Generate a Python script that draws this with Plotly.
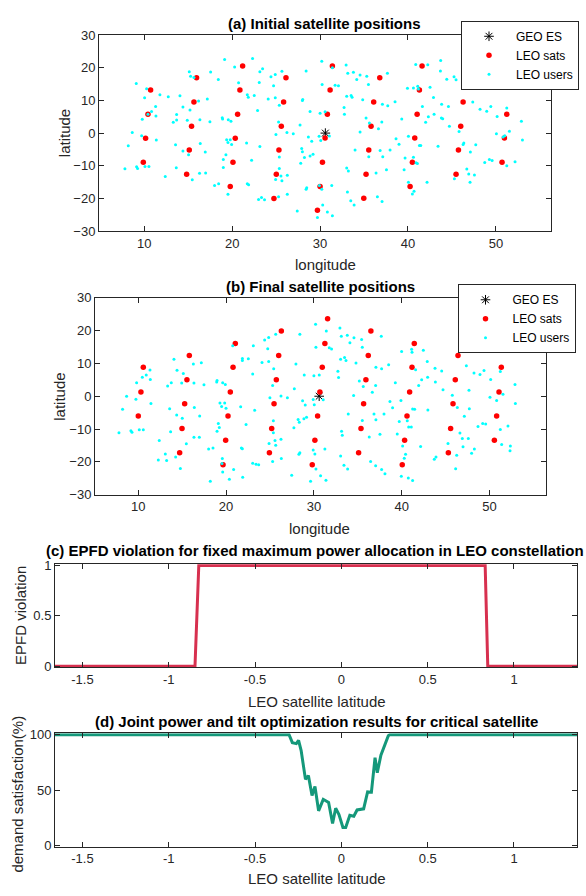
import plotly.graph_objects as go

# ---------------- data ----------------
geo_lon = [30.6]
geo_lat = [0.0]

# (a) initial LEO satellite positions
sats_a_lon = [10.72, 15.95, 21.19, 20.88, 15.65, 10.42, 15.38, 20.62, 10.15, 15.12, 20.35, 9.89,
              14.82, 20.09, 19.78, 26.12, 25.85, 25.59, 25.32, 25.02, 24.75, 31.4, 36.79, 31.14,
              36.1, 30.83, 35.8, 30.57, 35.54, 30.27, 35.23, 30.0, 34.97, 29.7, 41.6, 41.3,
              41.04, 40.77, 40.5, 40.24, 46.57, 46.27, 46.0, 45.74, 45.47, 51.24, 50.97, 50.7]
sats_a_lat = [13.2, 16.9, 20.5, 13.2, 9.5, 5.8, 2.1, 5.8, -1.6, -5.2, -1.6, -8.9,
              -12.6, -8.9, -16.3, 16.9, 9.5, 2.1, -5.2, -12.6, -20.0, 20.5, 16.9, 13.2,
              9.5, 5.8, 2.1, -1.5, -5.2, -8.9, -12.6, -16.3, -19.9, -23.6, 20.5, 13.2,
              5.8, -1.5, -8.9, -16.3, 16.9, 9.5, 2.1, -5.2, -12.6, 5.8, -1.5, -8.9]

users_a_lon = [9.09, 10.27, 10.04, 11.29, 10.83, 10.42, 11.33, 9.77, 8.63, 9.7, 11.37, 8.18, 7.8,
               9.13, 9.24, 10.08, 10.53, 11.78, 12.73, 14.06, 14.4, 15.12, 15.27, 15.65, 17.55,
               16.18, 17.17, 15.2, 13.68, 13.3, 13.68, 14.89, 16.33, 17.47, 18.42, 19.14, 20.28,
               20.73, 18.87, 18.91, 19.56, 19.86, 13.56, 14.4, 15.04, 16.37, 16.94, 13.64, 12.39,
               15.46, 16.29, 16.98, 18.0, 18.46, 18.99, 18.99, 19.29, 19.37, 19.52, 19.78, 19.94,
               19.52, 22.32, 21.72, 21.83, 22.51, 23.08, 23.15, 23.46, 22.89, 21.64, 23.15, 22.21,
               21.72, 21.87, 23.0, 23.34, 23.68, 24.1, 24.41, 24.9, 24.71, 25.66, 24.9, 25.36,
               25.28, 24.98, 26.23, 26.95, 25.36, 25.36, 25.55, 24.94, 25.66, 26.27, 26.27, 25.28,
               27.4,
               30.19, 28.41, 32.96, 31.4, 33.15, 33.79, 34.55, 35.31, 34.17, 35.5, 37.66, 30.23,
               31.71, 32.09, 33.53, 33.03, 33.64, 34.85, 37.09, 37.7, 38.53, 32.73, 32.77, 30.0,
               30.57, 28.86, 27.99, 28.03, 35.23, 35.61, 37.02, 36.64, 39.29, 34.55, 27.72, 28.67,
               29.05, 29.89, 30.08, 31.06, 38.64, 38.98, 37.96, 36.83, 33.98, 37.13, 35.54, 27.91,
               27.99, 28.22, 28.86, 29.2, 27.8, 33.03, 33.22, 36.37, 37.55, 39.56, 29.92, 30.19,
               31.33, 28.48, 28.41, 33.11, 33.49, 33.87, 36.52, 37.05, 30.3, 30.83, 31.4, 29.7,
               40.88, 42.25, 40.62, 41.11, 41.19, 42.51, 39.94, 42.9, 41.64, 42.32, 42.97, 42.01,
               43.83, 44.6, 43.72, 43.69, 44.41, 45.24, 45.47, 43.8, 43.95, 44.71, 45.81, 40.05,
               41.3, 41.45, 43.42, 39.67, 40.62, 40.92, 41.07, 40.05, 40.69, 40.5, 42.17, 46.27,
               46.35, 47.71, 47.1, 46.69, 46.91, 47.56, 47.06, 45.28, 47.37, 48.2, 48.96, 49.42,
               50.14, 51.24, 50.06, 50.82, 51.01, 51.54, 53.02, 52.9, 48.73, 49.26, 49.57, 51.24,
               52.18, 46.76]
users_a_lat = [15.2, 13.6, 10.8, 8.1, 6.6, 5.8, 5.2, 4.2, 0.2, -0.8, -2.1, -3.9, -10.9,
               -10.3, -10.8, -10.2, -10.2, 11.7, 11.1, 11.4, 8.0, 18.8, 17.4, 17.0, 18.7,
               9.8, 10.4, 7.1, 5.7, 3.3, 4.0, 3.9, 4.1, 3.5, 16.4, 22.5, 20.2,
               15.4, 4.7, 4.3, 4.1, 3.6, -3.6, -5.5, -6.6, -3.2, -5.8, -10.6, -13.3,
               -14.3, -12.3, -12.2, -16.0, -15.5, -10.5, -8.1, -6.6, -2.0, -2.9, -2.0, -3.5,
               -18.7, 22.8, 11.7, 11.0, 11.5, 15.5, 18.8, 19.7, 6.9, -3.0, -4.1, -8.3,
               -15.5, -15.8, -20.3, -19.7, -20.4, 10.4, 17.2, 17.9, 14.5, 18.9, 10.8, 8.5,
               3.4, -0.4, 0.2, -0.2, -7.3, -10.8, -13.1, -14.2, -14.6, -12.9, -18.7, -19.5,
               -23.8,
               22.0, 19.0, 20.8, 20.0, 18.3, 18.6, 17.8, 17.4, 16.4, 14.9, 18.3, 14.9,
               14.6, 14.5, 11.5, 11.3, 11.0, 10.2, 8.8, 8.4, 9.6, 7.8, 5.8, 6.1,
               6.5, 6.6, 10.0, 10.3, 4.6, 3.1, 3.4, 1.3, 4.3, 0.3, 2.5, -1.2,
               -2.5, -1.0, -2.3, -0.9, -1.7, -3.4, -5.2, -5.3, -5.2, -7.2, -7.2, -4.7,
               -5.7, -7.5, -7.0, -6.5, -9.2, -10.7, -11.6, -12.2, -11.2, -11.2, -16.0, -17.2,
               -16.0, -16.7, -17.2, -18.0, -20.7, -22.0, -19.5, -20.9, -22.0, -24.1, -25.3, -25.8,
               21.0, 20.9, 13.8, 14.3, 13.5, 14.0, 13.7, 10.9, 8.1, 5.0, 5.8, 3.3,
               8.8, 8.1, 22.2, 19.0, 16.5, 17.2, 16.3, 4.6, 4.4, 2.1, 0.5, -1.0,
               -3.8, -3.8, -4.0, -7.6, -7.4, -9.1, -9.3, -15.0, -17.8, -18.6, -15.0, -3.5,
               -3.0, -3.6, -5.8, -11.0, -12.5, -12.8, -15.0, -14.0, 9.5, 7.3, 6.7, 8.1,
               5.1, 7.7, -0.2, -1.2, -0.8, 0.6, -2.1, 3.6, -9.0, -8.1, -8.4, -10.0,
               -8.8, 17.8]

# (b) final LEO satellite positions
sats_b_lon = [10.57, 10.3, 10.0, 15.81, 15.54, 15.28, 14.98, 14.71, 21.05, 20.79, 20.48, 20.22,
              19.95, 19.65, 26.29, 25.99, 25.72, 25.46, 25.19, 24.93, 31.56, 31.25, 30.95, 30.68,
              30.42, 30.11, 29.81, 36.49, 36.19, 35.92, 35.66, 35.36, 35.09, 41.43, 41.17, 40.9,
              40.6, 40.33, 40.06, 46.41, 46.1, 45.84, 45.57, 45.31, 51.34, 51.08, 50.81, 50.55]
sats_b_lat = [8.8, 1.3, -6.0, 12.4, 5.0, -2.3, -9.8, -17.2, 16.1, 8.8, 1.3, -6.0,
              -13.4, -20.9, 19.9, 12.4, 5.0, -2.3, -9.8, -17.2, 23.6, 16.1, 8.8, 1.3,
              -6.0, -13.4, -20.9, 19.9, 12.4, 5.0, -2.3, -9.8, -17.2, 16.1, 8.8, 1.3,
              -6.0, -13.4, -20.9, 12.4, 5.0, -2.3, -9.8, -17.2, 8.8, 1.3, -6.0, -13.4]

users_b_lon = [9.81, 8.67, 9.73, 8.21, 7.8, 9.16, 9.28, 10.11, 10.57, 10.46, 10.91, 11.33, 11.37,
               11.44, 14.06, 14.41, 15.13, 13.34, 13.76, 14.94, 16.27, 17.18, 16.34, 17.48, 13.57,
               14.37, 15.01, 16.38, 16.99, 13.68, 12.39, 13.08, 12.28, 13.23, 14.25, 14.79, 15.47,
               16.34, 16.95, 18.01, 18.51, 18.2, 19.57, 19.53, 19.61, 20.37, 20.86, 21.89, 18.93,
               18.97, 19.61, 19.91, 19.3, 19.49, 19.84, 19.99, 19.11, 19.23, 18.97, 20.75, 21.85,
               21.85, 22.53, 23.03, 23.1, 23.25, 21.66, 22.27, 21.74, 21.85, 23.03, 23.41, 23.71,
               24.09, 24.39, 24.85, 24.74, 25.65, 24.85, 25.42, 25.3, 24.99, 26.25, 26.98, 25.38,
               25.38, 25.57, 25.65, 24.89, 26.25, 26.29, 25.3, 27.47, 27.77,
               30.19, 28.4, 30.23, 31.41, 31.75, 32.01, 32.96, 33.12, 33.8, 34.56, 34.1, 35.43,
               35.51, 37.67, 33.04, 33.49, 33.65, 34.79, 37.06, 37.71, 38.51, 32.73, 32.81, 30.0,
               30.61, 28.9, 27.95, 35.17, 35.62, 37.03, 36.65, 39.27, 34.52, 28.71, 29.01, 29.92,
               30.04, 31.06, 38.66, 38.96, 37.98, 36.84, 33.91, 37.06, 35.51, 28.2, 28.86, 29.16,
               27.72, 28.33, 33.15, 33.23, 36.3, 37.52, 39.49, 29.92, 30.11, 31.25, 28.4, 28.29,
               33.04, 33.42, 33.84, 36.46, 37.03, 37.71, 38.09, 30.23, 30.76, 31.37, 29.62,
               39.99, 41.13, 41.17, 42.46, 42.91, 41.58, 42.27, 42.95, 41.93, 43.79, 44.55, 43.83,
               44.7, 45.76, 39.91, 41.24, 41.47, 42.98, 39.72, 40.63, 40.79, 41.09, 40.1, 40.44,
               40.29, 42.15, 43.71, 43.9, 39.95, 40.75, 41.24, 46.33, 47.7, 47.13, 46.63, 46.9,
               47.58, 46.98, 48.27, 47.96, 45.27, 46.26, 46.14, 47.36, 48.23, 48.91, 49.37, 50.13,
               51.23, 47.66, 50.05, 50.81, 51.53, 52.9, 52.94, 48.69, 49.22, 49.56, 51.23, 52.1,
               51.38, 52.37, 52.33]
users_b_lat = [4.1, 0.0, -0.9, -4.0, -11.1, -10.5, -11.0, -10.2, -10.2, 5.8, 6.5, 8.0, 5.1,
               -2.2, 11.3, 7.9, 6.9, 3.1, 4.1, 4.0, 9.8, 10.2, 4.0, 3.5, -3.8,
               -5.7, -6.7, -3.4, -6.0, -10.8, -13.5, -17.6, -19.4, -19.6, -18.5, -22.0, -14.5,
               -12.5, -12.5, -16.1, -15.8, -25.9, -19.0, -20.5, -23.1, -25.3, -22.3, -24.7, 4.3,
               4.8, 4.1, 3.6, -2.1, -3.1, -2.1, -3.7, -8.3, -9.5, -10.7, 15.4, 11.5,
               10.9, 11.4, 6.8, 15.4, -4.3, -3.2, -8.6, -15.8, -16.0, -20.4, -20.7, -20.9,
               10.3, 17.1, 17.9, 14.5, 18.9, 10.6, 8.4, 3.3, -0.5, 0.1, -0.5, -7.5,
               -11.1, -13.5, -14.9, -14.4, -13.1, -19.0, -19.9, -24.1, 2.3,
               21.9, 18.9, 14.9, 19.9, 14.8, 14.4, 20.8, 18.3, 18.6, 17.8, 16.3, 17.3,
               14.9, 18.3, 11.3, 11.8, 10.9, 10.1, 8.8, 8.4, 9.6, 7.6, 5.7, 6.2,
               6.5, 6.5, 9.8, 4.6, 3.0, 3.3, 1.2, 4.1, 0.2, -1.4, -2.7, -1.0,
               -2.6, -1.1, -1.6, -3.5, -5.4, -5.4, -5.4, -7.2, -7.4, -7.1, -6.9, -6.4,
               -9.6, -7.9, -10.7, -11.9, -12.4, -11.6, -11.5, -16.4, -17.6, -16.1, -17.2, -17.7,
               -18.2, -21.0, -22.2, -19.9, -21.2, -22.3, -23.6, -22.2, -24.2, -25.6, -25.9,
               13.6, 14.3, 13.4, 14.0, 10.6, 8.1, 5.0, 5.8, 3.3, 8.5, 7.7, 4.3,
               2.0, 0.3, -1.3, -3.9, -4.0, -4.2, -7.7, -7.5, -9.4, -9.4, -15.2, -17.7,
               -18.9, -15.3, -19.2, -18.5, -24.4, -24.9, -25.7, -3.4, -3.8, -6.1, -11.2, -12.9,
               -12.9, -15.4, -16.1, -17.4, -14.4, -18.0, -22.1, 9.3, 7.1, 6.6, 7.8, 5.1,
               7.5, 1.8, -0.3, -1.3, 0.6, 3.6, -2.2, -9.2, -8.3, -8.5, -10.1, -9.1,
               -14.7, -15.2, -16.6]

# (c) EPFD violation vs LEO satellite latitude
lat_c = [-1.659, -0.848, -0.826, 0.833, 0.848, 1.365]
viol_c = [0, 0, 1, 1, 0, 0]

# (d) demand satisfaction vs LEO satellite latitude
lat_d = [-1.659, -0.303, -0.284, -0.261, -0.248, -0.233, -0.208, -0.191, -0.170, -0.153,
         -0.132, -0.105, -0.074, -0.051, -0.033, -0.014, 0.009, 0.025, 0.049, 0.072,
         0.091, 0.129, 0.152, 0.174, 0.195, 0.208, 0.229, 0.244, 0.272, 0.28, 1.365]
sat_d = [100, 100, 92.8, 91.9, 94.8, 85.6, 59.6, 63, 45, 53.2,
         31.2, 41.6, 38.8, 19.7, 33.6, 27.8, 16.2, 16.2, 27.2, 26.3,
         32, 33, 48.3, 48, 79.2, 65.6, 81.5, 87.3, 99, 100, 100]

# ---------------- figure ----------------
W, H = 586, 896
FONT = "Liberation Sans, Arial, Helvetica, sans-serif"
AX = "#262626"


def px_x(p):
    return p / W


def px_y(p):
    return 1 - p / H


fig = go.Figure()

for (slon, slat, ulon, ulat, xa, ya, lg) in [
    (sats_a_lon, sats_a_lat, users_a_lon, users_a_lat, "x", "y", "legend"),
    (sats_b_lon, sats_b_lat, users_b_lon, users_b_lat, "x2", "y2", "legend2"),
]:
    fig.add_trace(go.Scatter(x=geo_lon, y=geo_lat, mode="markers", name="GEO ES",
                             marker=dict(symbol="asterisk-open", size=8, color="black",
                                         line=dict(color="black", width=1)),
                             xaxis=xa, yaxis=ya, legend=lg))
    fig.add_trace(go.Scatter(x=slon, y=slat, mode="markers", name="LEO sats",
                             marker=dict(symbol="circle", size=5.5, color="#FF0000"),
                             xaxis=xa, yaxis=ya, legend=lg))
    fig.add_trace(go.Scatter(x=ulon, y=ulat, mode="markers", name="LEO users",
                             marker=dict(symbol="circle", size=3, color="#00FFFF"),
                             xaxis=xa, yaxis=ya, legend=lg))

fig.add_trace(go.Scatter(x=lat_c, y=viol_c, mode="lines", showlegend=False,
                         line=dict(color="#D7304F", width=3), xaxis="x3", yaxis="y3"))
fig.add_trace(go.Scatter(x=lat_d, y=sat_d, mode="lines", showlegend=False,
                         line=dict(color="#14987A", width=3), xaxis="x4", yaxis="y4"))

axis_style = dict(showline=True, linecolor=AX, linewidth=1, mirror="ticks", ticks="inside",
                  ticklen=5, tickcolor=AX, tickwidth=1, showgrid=False, zeroline=False,
                  tickfont=dict(family=FONT, size=13, color=AX))

legend_style = dict(xanchor="left", yanchor="top", bgcolor="white", bordercolor=AX,
                    borderwidth=1, font=dict(family=FONT, size=12, color="black"),
                    itemwidth=44, tracegroupgap=0)

fig.update_layout(
    width=W, height=H, autosize=False,
    margin=dict(l=0, r=0, t=0, b=0),
    paper_bgcolor="white", plot_bgcolor="white",
    font=dict(family=FONT, color=AX),
    xaxis=dict(axis_style, domain=[px_x(99), px_x(551)], range=[4.85, 56.27],
               tickvals=[10, 20, 30, 40, 50], anchor="y"),
    yaxis=dict(axis_style, domain=[px_y(228), px_y(28.5)], range=[-30, 30],
               tickvals=[-30, -20, -10, 0, 10, 20, 30], anchor="x"),
    xaxis2=dict(axis_style, domain=[px_x(95), px_x(546)], range=[5.07, 56.43],
                tickvals=[10, 20, 30, 40, 50], anchor="y2"),
    yaxis2=dict(axis_style, domain=[px_y(496), px_y(295.7)], range=[-30, 30],
                tickvals=[-30, -20, -10, 0, 10, 20, 30], anchor="x2"),
    xaxis3=dict(axis_style, domain=[px_x(55), px_x(577)], range=[-1.659, 1.365],
                tickvals=[-1.5, -1, -0.5, 0, 0.5, 1], ticktext=["-1.5", "-1", "-0.5", "0", "0.5", "1"],
                anchor="y3"),
    yaxis3=dict(axis_style, domain=[px_y(671.7), px_y(566.7)], range=[-0.012, 1.012],
                tickvals=[0, 0.5, 1], anchor="x3"),
    xaxis4=dict(axis_style, domain=[px_x(55), px_x(577)], range=[-1.659, 1.365],
                tickvals=[-1.5, -1, -0.5, 0, 0.5, 1], ticktext=["-1.5", "-1", "-0.5", "0", "0.5", "1"],
                anchor="y4"),
    yaxis4=dict(axis_style, domain=[px_y(854), px_y(738.7)], range=[-1.2, 101.2],
                tickvals=[0, 50, 100], anchor="x4"),
    legend=dict(legend_style, x=px_x(461), y=px_y(14)),
    legend2=dict(legend_style, x=px_x(457.5), y=px_y(282)),
)

annots = [
    # titles
    ("<b>(a) Initial satellite positions</b>", 324.4, 16.7, 0, 15, "black"),
    ("<b>(b) Final satellite positions</b>", 320, 284.2, 0, 15, "black"),
    ("<b>(c) EPFD violation for fixed maximum power allocation in LEO constellation</b>", 314.5, 553, 0, 15, "black"),
    ("<b>(d) Joint power and tilt optimization results for critical satellite</b>", 316.5, 727, 0, 15, "black"),
    # axis titles
    ("longitude", 325, 261.7, 0, 15, AX),
    ("latitude", 64, 128.3, -90, 15, AX),
    ("longitude", 319, 530, 0, 15, AX),
    ("latitude", 58.7, 396.7, -90, 15, AX),
    ("LEO satellite latitude", 316.5, 706.7, 0, 15, AX),
    ("EPFD violation", 20.3, 619, -90, 15, AX),
    ("LEO satellite latitude", 316.5, 886.7, 0, 15, AX),
    ("demand satisfaction(%)", 17.3, 800.7, -90, 15, AX),
]
for text, x, y, ang, size, col in annots:
    fig.add_annotation(text=text, x=px_x(x), y=px_y(y), xref="paper", yref="paper",
                       xanchor="center", yanchor="middle", textangle=ang, showarrow=False,
                       font=dict(family=FONT, size=size, color=col))

fig.write_html("out.html")
